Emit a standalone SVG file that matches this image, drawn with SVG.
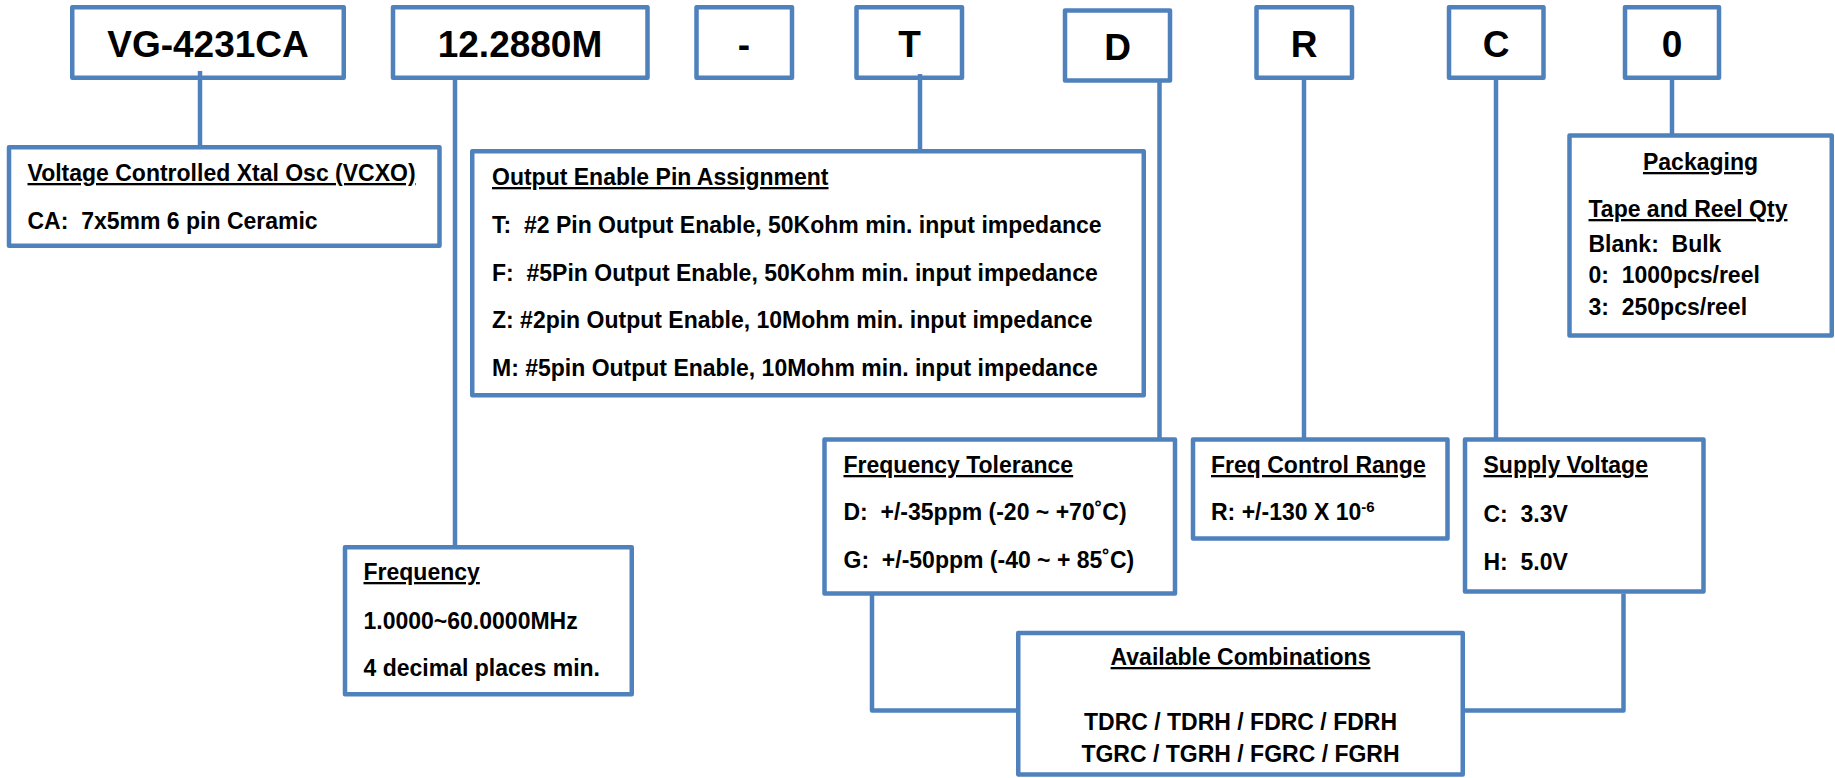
<svg xmlns="http://www.w3.org/2000/svg" width="1835" height="778" viewBox="0 0 1835 778">
<style>
.box{fill:#fff;stroke:#4F81BD;stroke-width:4.5;stroke-linejoin:round}
.ln{fill:none;stroke:#4F81BD;stroke-width:4.5;stroke-linejoin:round}
text{font-family:"Liberation Sans",Arial,sans-serif;font-weight:bold;fill:#000;white-space:pre}
.big{font-size:37px;text-anchor:middle}
.t{font-size:23px}
.u{text-decoration:underline}
.c{text-anchor:middle}
</style>
<rect width="1835" height="778" fill="#fff"/>
<g id="code-vg">
<rect class="box" x="72.25" y="7.25" width="271.5" height="70.5"/>
<text class="big" x="208" y="57">VG-4231CA</text>
</g>
<g id="code-freq">
<rect class="box" x="393" y="7.25" width="254.5" height="70.5"/>
<text class="big" x="520" y="57">12.2880M</text>
</g>
<g id="code-dash">
<rect class="box" x="696.5" y="7.25" width="95.5" height="70.5"/>
<text class="big" x="744" y="57">-</text>
</g>
<g id="code-t">
<rect class="box" x="856.5" y="7.25" width="105.5" height="70.5"/>
<text class="big" x="909.5" y="57">T</text>
</g>
<g id="code-d">
<rect class="box" x="1065" y="10.5" width="105" height="70"/>
<text class="big" x="1117.5" y="60">D</text>
</g>
<g id="code-r">
<rect class="box" x="1256.5" y="7.25" width="95.5" height="70.5"/>
<text class="big" x="1304" y="57">R</text>
</g>
<g id="code-c">
<rect class="box" x="1449" y="7.25" width="94.5" height="70.5"/>
<text class="big" x="1496" y="57">C</text>
</g>
<g id="code-0">
<rect class="box" x="1625" y="7.25" width="94" height="70.5"/>
<text class="big" x="1672" y="57">0</text>
</g>
<g id="vcxo">
<rect class="box" x="9" y="147.25" width="430.5" height="98.5"/>
<text class="t u" x="27.5" y="181">Voltage Controlled Xtal Osc (VCXO)</text>
<text class="t" x="27.5" y="229">CA:  7x5mm 6 pin Ceramic</text>
</g>
<g id="output-enable">
<rect class="box" x="472.25" y="151.25" width="671.5" height="244"/>
<text class="t u" x="492" y="185">Output Enable Pin Assignment</text>
<text class="t" x="492" y="233">T:  #2 Pin Output Enable, 50Kohm min. input impedance</text>
<text class="t" x="492" y="281">F:  #5Pin Output Enable, 50Kohm min. input impedance</text>
<text class="t" x="492" y="328">Z: #2pin Output Enable, 10Mohm min. input impedance</text>
<text class="t" x="492" y="376">M: #5pin Output Enable, 10Mohm min. input impedance</text>
</g>
<g id="frequency">
<rect class="box" x="345" y="547.25" width="286.75" height="147"/>
<text class="t u" x="363.5" y="580">Frequency</text>
<text class="t" x="363.5" y="629">1.0000~60.0000MHz</text>
<text class="t" x="363.5" y="676">4 decimal places min.</text>
</g>
<g id="freq-tolerance">
<rect class="box" x="824.5" y="439.5" width="350.5" height="154"/>
<text class="t u" x="843.5" y="473">Frequency Tolerance</text>
<text class="t" x="843.5" y="520">D:  +/-35ppm (-20 ~ +70˚C)</text>
<text class="t" x="843.5" y="568">G:  +/-50ppm (-40 ~ + 85˚C)</text>
</g>
<g id="freq-control">
<rect class="box" x="1193" y="439.5" width="254.5" height="99"/>
<text class="t u" x="1211" y="473">Freq Control Range</text>
<text class="t" x="1211" y="520">R: +/-130 X 10<tspan dy="-8" font-size="15">-6</tspan></text>
</g>
<g id="supply-voltage">
<rect class="box" x="1465" y="439.5" width="238.5" height="152"/>
<text class="t u" x="1483.5" y="473">Supply Voltage</text>
<text class="t" x="1483.5" y="521.5">C:  3.3V</text>
<text class="t" x="1483.5" y="570">H:  5.0V</text>
</g>
<g id="packaging">
<rect class="box" x="1569.5" y="135.5" width="262.25" height="200"/>
<text class="t u c" x="1700.5" y="170">Packaging</text>
<text class="t u" x="1588.5" y="217">Tape and Reel Qty</text>
<text class="t" x="1588.5" y="251.5">Blank:  Bulk</text>
<text class="t" x="1588.5" y="283">0:  1000pcs/reel</text>
<text class="t" x="1588.5" y="315">3:  250pcs/reel</text>
</g>
<g id="combinations">
<rect class="box" x="1018.25" y="633" width="444.5" height="141.5"/>
<text class="t u c" x="1240.5" y="665">Available Combinations</text>
<text class="t c" x="1240.5" y="730">TDRC / TDRH / FDRC / FDRH</text>
<text class="t c" x="1240.5" y="762">TGRC / TGRH / FGRC / FGRH</text>
</g>
<g id="connectors">
<line class="ln" x1="200" y1="71" x2="200" y2="147"/>
<line class="ln" x1="455" y1="79" x2="455" y2="547"/>
<line class="ln" x1="920" y1="74" x2="920" y2="151"/>
<line class="ln" x1="1159.5" y1="82" x2="1159.5" y2="439.5"/>
<line class="ln" x1="1304" y1="79" x2="1304" y2="439.5"/>
<line class="ln" x1="1496" y1="79" x2="1496" y2="439.5"/>
<line class="ln" x1="1672" y1="79" x2="1672" y2="135.5"/>
<path class="ln" d="M872 593.5V710.5H1018.5"/>
<path class="ln" d="M1623.5 593.5V710.5H1462.5"/>
</g>
</svg>
